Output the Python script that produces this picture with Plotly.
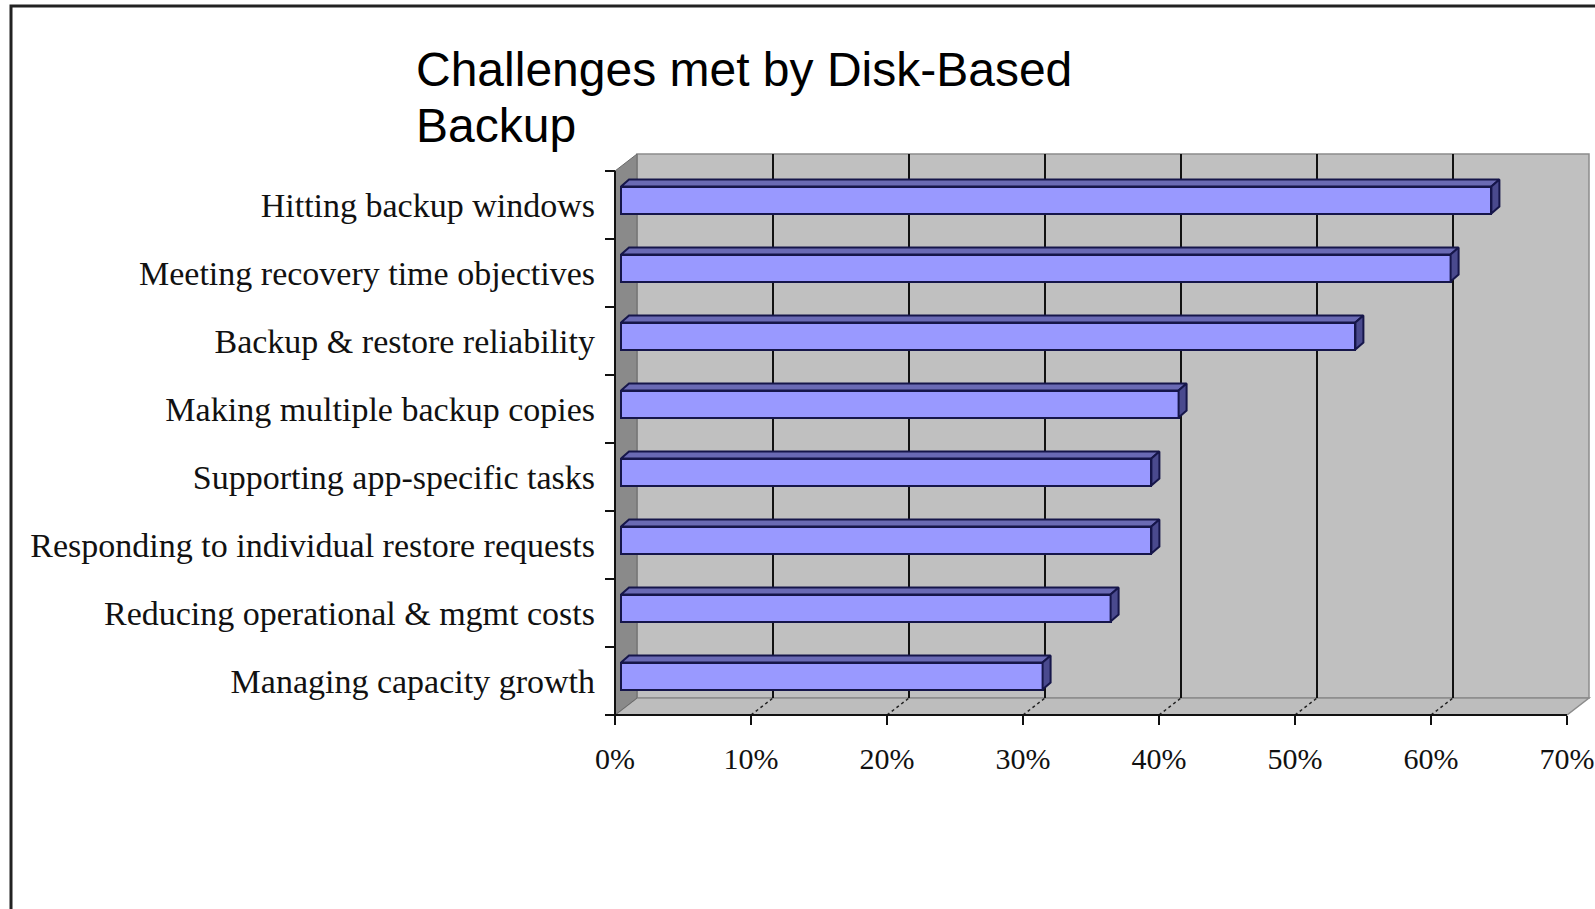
import numpy as np
import plotly.graph_objects as go

# ---------------- data ----------------
categories = [
    "Hitting backup windows",
    "Meeting recovery time objectives",
    "Backup & restore reliability",
    "Making multiple backup copies",
    "Supporting app-specific tasks",
    "Responding to individual restore requests",
    "Reducing operational & mgmt costs",
    "Managing capacity growth",
]
values = [64, 61, 54, 41, 39, 39, 36, 31]
x_ticks = [0, 10, 20, 30, 40, 50, 60, 70]
x_tick_labels = ["0%", "10%", "20%", "30%", "40%", "50%", "60%", "70%"]
title_lines = ["Challenges met by Disk-Based", "Backup"]

# ---------------- geometry (pixels) ----------------
W, H = 1595, 909
PL, PR, PT, PB = 600, 1595, 140, 730      # plot-area box in px
X0_PX, Y0_PX = 615, 715                    # where 0% / floor front edge sit
PX_X = 13.6                                # px per 1 %
PX_Y = 68.0                                # px per category band

def dxu(px):
    return px / PX_X

def dyu(px):
    return px / PX_Y

x_rng = [-(X0_PX - PL) / PX_X, (PR - X0_PX) / PX_X]
y_rng = [-(PB - Y0_PX) / PX_Y, (Y0_PX - PT) / PX_Y]

def paper_x(px):
    return (px - PL) / (PR - PL)

def paper_y(py):
    return (PB - py) / (PB - PT)

n = len(categories)
xmax = x_ticks[-1]
ymax = n
ycent = np.array([n - 1 - k + 0.5 for k in range(n)])
vals = np.array(values, dtype=float)

# 3-D offsets
WDX, WDY = dxu(22), dyu(17)          # wall depth
BFX, BFY = dxu(6), dyu(5)            # bar front plane offset
BDX, BDY = dxu(8), dyu(7)            # bar depth
HALF = dyu(13.5)                     # half bar thickness

fig = go.Figure()

# front faces of bars
fig.add_trace(go.Bar(
    x=vals, y=ycent + BFY, base=BFX, width=2 * HALF, orientation="h",
    marker=dict(color="#9999FF", line=dict(color="#16164a", width=2)),
    hoverinfo="skip", showlegend=False,
))

# top faces
tx, ty = [], []
for v, c in zip(vals, ycent):
    x0, x1 = BFX, v + BFX
    yt = c + BFY + HALF
    tx += [x0, x1, x1 + BDX, x0 + BDX, x0, None]
    ty += [yt, yt, yt + BDY, yt + BDY, yt, None]
fig.add_trace(go.Scatter(
    x=tx, y=ty, mode="lines", fill="toself", fillcolor="#6a6ab4",
    line=dict(color="#16164a", width=2), hoverinfo="skip", showlegend=False,
))

# end faces
ex, ey = [], []
for v, c in zip(vals, ycent):
    x1 = v + BFX
    yb, yt = c + BFY - HALF, c + BFY + HALF
    ex += [x1, x1, x1 + BDX, x1 + BDX, x1, None]
    ey += [yb, yt, yt + BDY, yb + BDY, yb, None]
fig.add_trace(go.Scatter(
    x=ex, y=ey, mode="lines", fill="toself", fillcolor="#4a4a8e",
    line=dict(color="#16164a", width=2), hoverinfo="skip", showlegend=False,
))

shapes = []
# back wall
shapes.append(dict(type="rect", xref="x", yref="y", layer="below",
                   x0=WDX, x1=xmax + WDX, y0=WDY, y1=ymax + WDY,
                   fillcolor="#C0C0C0", line=dict(color="#8c8c8c", width=1.5)))
# floor
shapes.append(dict(type="path", xref="x", yref="y", layer="below",
                   path=f"M 0,0 L {xmax},0 L {xmax + WDX},{WDY} L {WDX},{WDY} Z",
                   fillcolor="#BDBDBD", line=dict(color="#8c8c8c", width=1.5)))
# side wall
shapes.append(dict(type="path", xref="x", yref="y", layer="below",
                   path=f"M 0,0 L 0,{ymax} L {WDX},{ymax + WDY} L {WDX},{WDY} Z",
                   fillcolor="#8a8a8a", line=dict(color="#6a6a6a", width=1)))
# gridlines on back wall and floor
for t in x_ticks[1:-1]:
    shapes.append(dict(type="line", xref="x", yref="y", layer="below",
                       x0=t + WDX, x1=t + WDX, y0=WDY, y1=ymax + WDY,
                       line=dict(color="#111111", width=2)))
    shapes.append(dict(type="line", xref="x", yref="y", layer="below",
                       x0=t, x1=t + WDX, y0=0, y1=WDY,
                       line=dict(color="#222222", width=1.5, dash="dot")))
# axis lines (front plane)
shapes.append(dict(type="line", xref="x", yref="y", x0=0, x1=0, y0=0, y1=ymax,
                   line=dict(color="#111111", width=2)))
shapes.append(dict(type="line", xref="x", yref="y", x0=0, x1=xmax, y0=0, y1=0,
                   line=dict(color="#111111", width=2)))
# outer frame of the picture
shapes.append(dict(type="rect", xref="paper", yref="paper",
                   x0=paper_x(11), x1=paper_x(1610), y0=paper_y(6), y1=paper_y(930),
                   line=dict(color="#222222", width=3), fillcolor="rgba(0,0,0,0)"))

annotations = [
    dict(text=title_lines[0], xref="paper", yref="paper",
         x=paper_x(414), y=paper_y(69), xanchor="left", yanchor="middle",
         showarrow=False, font=dict(family="Liberation Sans, Arial", size=48, color="#000")),
    dict(text=title_lines[1], xref="paper", yref="paper",
         x=paper_x(414), y=paper_y(125), xanchor="left", yanchor="middle",
         showarrow=False, font=dict(family="Liberation Sans, Arial", size=48, color="#000")),
]

fig.update_layout(
    width=W, height=H,
    margin=dict(l=PL, r=W - PR, t=PT, b=H - PB, pad=0),
    paper_bgcolor="white", plot_bgcolor="rgba(0,0,0,0)",
    showlegend=False, bargap=0,
    shapes=shapes, annotations=annotations,
    xaxis=dict(range=x_rng, anchor="free", position=paper_y(Y0_PX),
               tickvals=x_ticks, ticktext=x_tick_labels,
               ticks="outside", ticklen=9, tickwidth=2, tickcolor="#111",
               ticklabelstandoff=8,
               tickfont=dict(family="Liberation Serif", size=30, color="#111"),
               showgrid=False, zeroline=False, showline=False, fixedrange=True),
    yaxis=dict(range=y_rng, anchor="free", position=paper_x(X0_PX),
               tickvals=list(ycent), ticktext=categories, ticks="",
               ticklabelstandoff=20,
               minor=dict(tickvals=list(range(n + 1)), ticks="outside",
                          ticklen=10, tickwidth=2, tickcolor="#111"),
               tickfont=dict(family="Liberation Serif", size=34, color="#111"),
               showgrid=False, zeroline=False, showline=False, fixedrange=True),
)

fig.write_html("out.html")
